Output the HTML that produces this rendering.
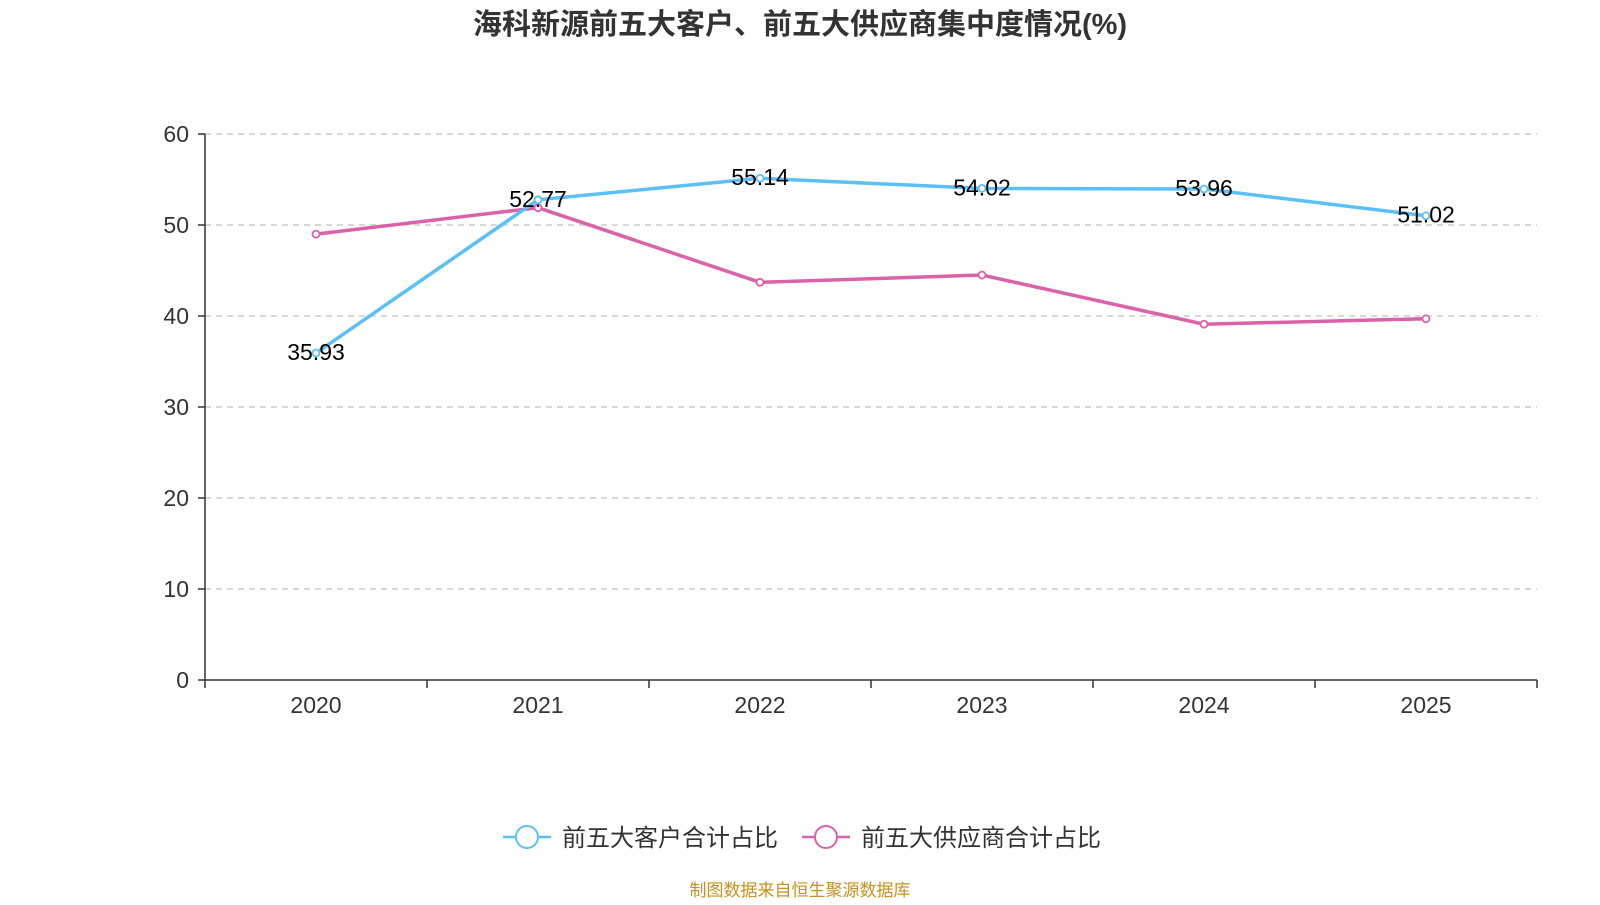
<!DOCTYPE html>
<html><head><meta charset="utf-8"><style>
body{margin:0;background:#fff;width:1600px;height:900px;overflow:hidden;font-family:"Liberation Sans","Noto Sans CJK SC",sans-serif}
</style></head><body>
<svg id="c" width="1600" height="900" xmlns="http://www.w3.org/2000/svg">
<text x="800" y="34" text-anchor="middle" font-size="29" font-weight="bold" fill="#333">海科新源前五大客户、前五大供应商集中度情况(%)</text>
<g id="grid"></g><g id="axes"></g><g id="series"></g>
<g>
<g>
<line x1="503" y1="837" x2="551" y2="837" stroke="#5bc0f8" stroke-width="2.5"/>
<circle cx="527" cy="837" r="11" fill="#fff" stroke="#5bc0f8" stroke-width="2"/>
<text x="562" y="846" font-size="24" fill="#333">前五大客户合计占比</text></g>
<g>
<line x1="802" y1="837" x2="850" y2="837" stroke="#d962a8" stroke-width="2.5"/>
<circle cx="826" cy="837" r="11" fill="#fff" stroke="#d962a8" stroke-width="2"/>
<text x="861" y="846" font-size="24" fill="#333">前五大供应商合计占比</text></g>
</g>
<text x="800" y="896" text-anchor="middle" font-size="17" fill="#c8901e">制图数据来自恒生聚源数据库</text>
</svg>
<script>
const categories=["2020","2021","2022","2023","2024","2025"];
const customers=[35.93,52.77,55.14,54.02,53.96,51.02];
const suppliers=[49.0,51.9,43.7,44.5,39.1,39.7];
const yTicks=[0,10,20,30,40,50,60];
const NS="http://www.w3.org/2000/svg";
const L=205,R=1537,T=134,B=680,yMax=60;
const bw=(R-L)/categories.length;
const xs=i=>L+bw*(i+0.5);
const ys=v=>B-(v/yMax)*(B-T);
function mk(tag,at,parent,txt){const e=document.createElementNS(NS,tag);for(const k in at)e.setAttribute(k,at[k]);if(txt!=null)e.textContent=txt;document.getElementById(parent).appendChild(e);return e;}
yTicks.forEach(t=>{
 if(t>0){const g=mk('line',{x1:L,x2:R,y1:ys(t),y2:ys(t),stroke:'#ccc','stroke-width':1.5,'stroke-dasharray':'6,5'},'grid');
 
 }
 const tk=mk('line',{x1:L-7,x2:L,y1:ys(t),y2:ys(t),stroke:'#333','stroke-width':1.5},'axes');
 
 
 const lb=mk('text',{x:L-16,y:ys(t)+8,'text-anchor':'end','font-size':23,fill:'#333'},'axes',String(t));
 
 
});
const ya=mk('line',{x1:L,x2:L,y1:T,y2:B,stroke:'#333','stroke-width':1.5},'axes');


const xa=mk('line',{x1:L,x2:R,y1:B,y2:B,stroke:'#333','stroke-width':1.5},'axes');


for(let i=0;i<=categories.length;i++){const tk=mk('line',{x1:L+bw*i,x2:L+bw*i,y1:B,y2:B+8,stroke:'#333','stroke-width':1.5},'axes');
 
 }
categories.forEach((c,i)=>{const t=mk('text',{x:xs(i),y:B+33,'text-anchor':'middle','font-size':23,fill:'#333'},'axes',c);
 
 });
function series(vals,color,name,labels){
 const p=mk('polyline',{points:vals.map((v,i)=>xs(i)+','+ys(v)).join(' '),fill:'none',stroke:color,'stroke-width':3.5},'series');
 
 
 vals.forEach((v,i)=>{const c=mk('circle',{cx:xs(i),cy:ys(v),r:3.5,fill:'#fff',stroke:color,'stroke-width':1.8},'series');
  
  });
 if(labels)vals.forEach((v,i)=>{const t=mk('text',{x:xs(i),y:ys(v)+7,'text-anchor':'middle','font-size':23,fill:'#000'},'series',v.toFixed(2));
  
  });
}
series(suppliers,'#d962a8','suppliers',false);
series(customers,'#5bc0f8','customers',true);
</script>
</body></html>
